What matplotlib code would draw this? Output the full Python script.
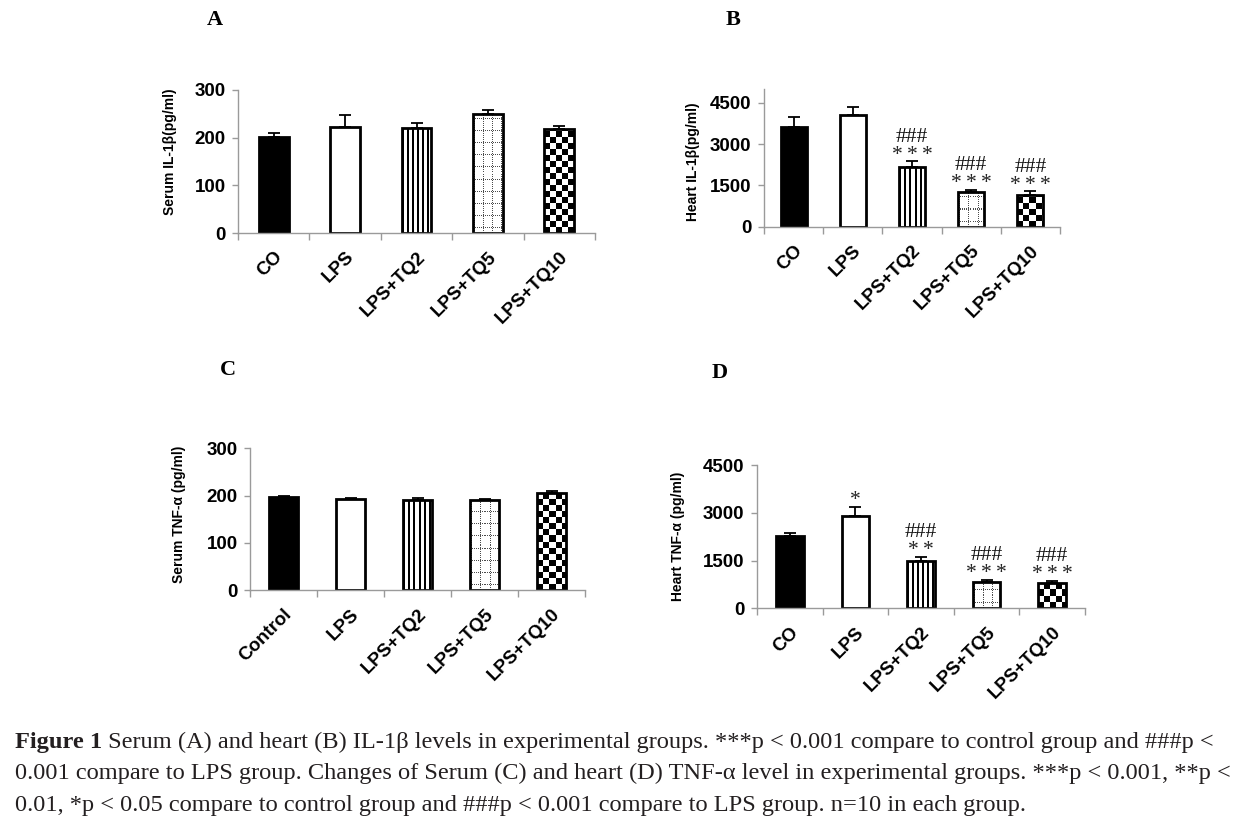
import numpy as np
import matplotlib
matplotlib.use("Agg")
import matplotlib.pyplot as plt

# ---------------- data ----------------
groups_co = ["CO", "LPS", "LPS+TQ2", "LPS+TQ5", "LPS+TQ10"]
groups_ctrl = ["Control", "LPS", "LPS+TQ2", "LPS+TQ5", "LPS+TQ10"]

serum_il1b = [201, 223, 220, 250, 218]
serum_il1b_err = [8, 25, 10, 8, 7]

heart_il1b = [3610, 4060, 2180, 1270, 1150]
heart_il1b_err = [380, 270, 200, 70, 140]
heart_il1b_stars = ["", "", "***", "***", "***"]
heart_il1b_hash = ["", "", "###", "###", "###"]

serum_tnf = [197, 193, 190, 191, 205]
serum_tnf_err = [3, 3, 4, 2, 5]

heart_tnf = [2280, 2900, 1490, 830, 800]
heart_tnf_err = [100, 290, 130, 70, 65]
heart_tnf_stars = ["", "*", "**", "***", "***"]
heart_tnf_hash = ["", "", "###", "###", "###"]

serum_ticks = [0, 100, 200, 300]
heart_ticks = [0, 1500, 3000, 4500]

fill_kinds = ["solid", "open", "vlines", "dotgrid", "checker"]

# ---------------- style ----------------
SANS = ["Liberation Sans", "DejaVu Sans"]
SERIF = ["Liberation Serif", "DejaVu Serif"]
GRAY = "#9a9a9a"

fig = plt.figure(figsize=(12.49, 8.33), dpi=100)
FW, FH = 1249, 833


def px_axes(left, right, top, bottom):
    return fig.add_axes([left / FW, 1 - bottom / FH, (right - left) / FW, (bottom - top) / FH])


def pattern_image(ax, rect, kind):
    x0, y0 = rect.get_x(), rect.get_y()
    w, h = rect.get_width(), rect.get_height()
    p0 = ax.transData.transform((x0, y0))
    p1 = ax.transData.transform((x0 + w, y0 + h))
    W = max(int(round(p1[0] - p0[0])), 1)
    H = max(int(round(p1[1] - p0[1])), 1)
    jj, ii = np.meshgrid(np.arange(W), np.arange(H))
    ii = (H - 1) - ii  # count rows from bottom
    img = np.ones((H, W))
    if kind == "vlines":
        img[(jj % 5) < 2] = 0.0
    elif kind == "dotgrid":
        vl = ((jj - 1) % 9 == 0) & (ii % 2 == 0)
        hl = ((ii - 5) % 12 == 0) & (jj % 2 == 0)
        img[vl | hl] = 0.3
    elif kind == "checker":
        c = 6
        img[((jj // c) + (ii // c)) % 2 == 0] = 0.0
    im = ax.imshow(img, cmap="gray", vmin=0, vmax=1, origin="upper",
                   extent=(x0, x0 + w, y0, y0 + h), interpolation="nearest",
                   aspect="auto", zorder=1.5)
    im.set_clip_path(rect)


def panel(ax, labels, vals, errs, yticks, ymax, ylabel, ylabel_xy,
          stars=None, hashes=None, width=0.42):
    n = len(vals)
    x = np.arange(n)
    ax.set_xlim(-0.5, n - 0.5)
    ax.set_ylim(0, ymax)
    faces = ["black" if k == "solid" else "white" for k in fill_kinds]
    bars = ax.bar(x, vals, width=width, color=faces, linewidth=0, zorder=1)
    for b, k in zip(bars, fill_kinds):
        if k in ("vlines", "dotgrid", "checker"):
            pattern_image(ax, b, k)
    ax.bar(x, vals, width=width, fill=False, edgecolor="black",
           linewidth=2.0, zorder=2)
    ax.errorbar(x, vals, yerr=[np.zeros(n), errs], fmt="none", ecolor="black",
                elinewidth=1.3, capsize=4.5, capthick=1.3, zorder=2.2)
    ax.set_xlim(-0.5, n - 0.5)
    ax.set_ylim(0, ymax)

    for s in ["top", "right"]:
        ax.spines[s].set_visible(False)
    for s in ["left", "bottom"]:
        ax.spines[s].set_color(GRAY)
        ax.spines[s].set_linewidth(1.0)
        ax.spines[s].set_zorder(3)

    ax.set_yticks(yticks)
    ax.set_yticklabels([str(t) for t in yticks], fontfamily=SANS,
                       fontweight="bold", fontsize=13.5)
    ax.tick_params(axis="y", direction="out", length=4, width=1.0,
                   color=GRAY, pad=5)
    ax.set_xticks(np.arange(n + 1) - 0.5)
    ax.set_xticklabels([""] * (n + 1))
    ax.tick_params(axis="x", which="major", direction="out", length=5,
                   width=1.0, color=GRAY)
    ax.set_xticks(x, minor=True)
    ax.set_xticklabels(labels, minor=True, fontfamily=SANS, fontweight="bold",
                       fontsize=13.5, rotation=45, ha="right",
                       rotation_mode="anchor")
    ax.tick_params(axis="x", which="minor", length=0, pad=11)

    ax.set_ylabel(ylabel, fontfamily=SANS, fontweight="bold", fontsize=10)
    ax.yaxis.set_label_coords(*ylabel_xy)

    if stars is not None:
        for xi, v, e, st, hs in zip(x, vals, errs, stars, hashes):
            if st:
                ax.annotate("\u2009".join(st) if len(st) > 1 else st,
                            xy=(xi, v + e), xytext=(0, 1),
                            textcoords="offset points", ha="center",
                            va="baseline", fontfamily=SERIF, fontsize=15.5,
                            color="#222222")
            if hs:
                ax.annotate(hs, xy=(xi, v + e), xytext=(0, 14),
                            textcoords="offset points", ha="center",
                            va="baseline", fontfamily=SERIF, fontsize=15.5,
                            color="#111111")


axA = px_axes(238, 595, 90, 233)
panel(axA, groups_co, serum_il1b, serum_il1b_err, serum_ticks, 300,
      "Serum IL-1\u03b2(pg/ml)", (-0.171, 0.57))

axB = px_axes(764, 1060, 88.9, 226.7)
panel(axB, groups_co, heart_il1b, heart_il1b_err, heart_ticks, 5000,
      "Heart IL-1\u03b2(pg/ml)", (-0.216, 0.47),
      stars=heart_il1b_stars, hashes=heart_il1b_hash, width=0.44)

axC = px_axes(250, 585, 448.3, 590.3)
panel(axC, groups_ctrl, serum_tnf, serum_tnf_err, serum_ticks, 300,
      "Serum TNF-\u03b1 (pg/ml)", (-0.191, 0.537))

axD = px_axes(757, 1085, 465, 608.3)
panel(axD, groups_co, heart_tnf, heart_tnf_err, heart_ticks, 4500,
      "Heart TNF-\u03b1 (pg/ml)", (-0.2195, 0.50),
      stars=heart_tnf_stars, hashes=heart_tnf_hash)

# panel letters
for letter, (px, py) in zip("ABCD", [(215, 20), (733, 20), (228, 370), (720, 373)]):
    fig.text(px / FW, 1 - py / FH, letter, fontfamily=SERIF, fontweight="bold",
             fontsize=16, ha="center", va="center")

# caption
cap_lines = [
    ("Figure 1", " Serum (A) and heart (B) IL-1\u03b2 levels in experimental groups. ***p < 0.001 compare to control group and ###p <"),
    ("", "0.001 compare to LPS group. Changes of Serum (C) and heart (D) TNF-\u03b1 level in experimental groups. ***p < 0.001, **p <"),
    ("", "0.01, *p < 0.05 compare to control group and ###p < 0.001 compare to LPS group. n=10 in each group."),
]
cap_base = [748, 779, 811]
CAPFS = 17.6
CAPCOL = "#231f20"
for (bold, rest), yb in zip(cap_lines, cap_base):
    if bold:
        t = fig.text(15 / FW, 1 - yb / FH, bold, fontfamily=SERIF,
                     fontweight="bold", fontsize=CAPFS, va="baseline",
                     color=CAPCOL)
        ann = matplotlib.text.Annotation(
            rest, xy=(1, 0), xycoords=t, va="bottom",
            fontfamily=SERIF, fontsize=CAPFS, color=CAPCOL,
            annotation_clip=False)
        fig.add_artist(ann)
    else:
        fig.text(15 / FW, 1 - yb / FH, rest, fontfamily=SERIF,
                 fontsize=CAPFS, va="baseline", color=CAPCOL)

fig.savefig("out.png", dpi=100)
